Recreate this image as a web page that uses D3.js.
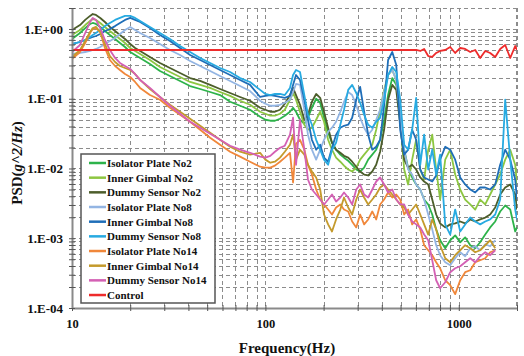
<!DOCTYPE html>
<html>
<head>
<meta charset="utf-8">
<script src="https://cdn.jsdelivr.net/npm/d3@7/dist/d3.min.js"></script>
<style>
  body { margin: 0; background: #fff; }
  svg text { font-family: "Liberation Serif", "Times New Roman", serif; font-weight: bold; fill: #111; }
</style>
</head>
<body>
<div id="chart"></div>
<script>
// frequency grid (Hz), shared by all series
const freq = [10,11,11.7,12.4,12.8,13.3,14,14.8,15.7,16.7,17.7,18.8,20,21.2,22.5,25.3,28.5,32.1,36.2,40.8,46,51.8,58.3,65.7,74,83.3,93.9,100,106,112,119,126,134,139,144,
  151,159,166,174,183,192,201,211,221,232,244,255,268,281,295,309,324,340,357,374,392,411,431,453,475,498,522,547,574,602,632,662,695,729,764,801,
  851,903,958,1017,1079,1146,1216,1290,1370,1453,1543,1637,1738,1845,1958,2000];

// PSD values (g^2/Hz)
const isolatorNo2 = [.719,.876,1.03,1.18,1.22,1.18,1.07,.936,.820,.719,.630,.552,.468,.424,.384,.315,.250,.212,.180,.152,.138,.125,.113,.0906,.0794,.0696,.0552,.0500,.0484,.0484,.0517,.0571,.0651,.0743,.0651,
  .0500,.0438,.0534,.0743,.100,.0876,.0534,.0326,.0234,.0186,.0158,.0143,.0129,.0113,.00968,.00906,.0103,.0134,.0158,.0186,.0258,.0500,.113,.198,.158,.0500,.0186,.0103,.00743,.00590,.00500,.00359,.00305,.00219,.00134,.000936,
  .000719,.000936,.00110,.000876,.00103,.000794,.000719,.000876,.00113,.00143,.00174,.00242,.00295,.00258,.00125,.00143];
const gimbalNo2 = [.820,.968,1.14,1.30,1.39,1.35,1.22,1.07,.936,.820,.719,.630,.534,.484,.438,.359,.285,.242,.205,.174,.158,.143,.125,.110,.0936,.0820,.0651,.0610,.0571,.0571,.0610,.0696,.0968,.121,.0968,
  .0651,.0424,.0359,.0384,.0500,.0651,.0468,.0258,.0186,.0143,.0125,.0110,.00968,.00906,.0103,.0134,.0158,.0186,.0219,.0359,.0696,.134,.219,.258,.186,.0500,.00968,.00590,.0134,.0258,.00968,.00696,.0186,.0305,.00968,.00359,
  .0134,.0186,.00820,.00500,.00359,.00305,.00258,.00359,.00305,.00424,.00590,.00820,.0134,.0186,.0113,.00590];
const dummyNo2 = [.968,1.14,1.35,1.54,1.64,1.59,1.44,1.26,1.07,.936,.820,.719,.610,.534,.484,.397,.326,.276,.234,.198,.180,.158,.138,.121,.106,.0936,.0743,.0696,.0651,.0651,.0696,.0848,.113,.143,.113,
  .0820,.0500,.0590,.0906,.117,.103,.0651,.0384,.0234,.0186,.0168,.0152,.0143,.0125,.0106,.00906,.00820,.00794,.00906,.0113,.0174,.0359,.0968,.158,.134,.0424,.0134,.0103,.0113,.00968,.00743,.00651,.00590,.00359,.00219,.00163,
  .00143,.00158,.00163,.00174,.00163,.00186,.00174,.00186,.00198,.00219,.00276,.00424,.00534,.00590,.00424,.00258];
const isolatorNo8 = [.438,.453,.468,.484,.500,.517,.552,.610,.673,.743,.848,.968,1.07,.968,.876,.743,.610,.500,.424,.348,.295,.250,.212,.180,.152,.129,.0936,.0848,.0794,.0794,.0820,.0876,.0968,.125,.163,
  .158,.0696,.0305,.0186,.0134,.0186,.0258,.0336,.0384,.0468,.0651,.0906,.125,.113,.0820,.0534,.0384,.0305,.0359,.0500,.0696,.125,.219,.258,.186,.0590,.0186,.00968,.00820,.00590,.00500,.00359,.00219,.00134,.000794,.000571,
  .000453,.000410,.000517,.000630,.000552,.000719,.000768,.000673,.000820,.000768,.000936,null,null,null,null,null];
const gimbalNo8 = [.610,.651,.696,.743,.768,.794,.848,.936,1.00,1.10,1.22,1.35,1.44,1.35,1.26,1.03,.820,.673,.534,.424,.359,.305,.258,.219,.186,.158,.106,.110,.113,.110,.106,.103,.110,.158,.219,
  .186,.0968,.0500,.0258,.0186,.0219,.0143,.0125,.0198,.0305,.0384,.0410,.0424,.0534,.0968,.148,.0651,.0305,.0186,.0205,.0258,.0794,.359,.468,.305,.0359,.0158,.0186,.0359,.0258,.00968,.00743,.00696,.00651,.00794,.0134,
  .0205,.0186,.0134,.00743,.00590,.00500,.00453,.00534,.00534,.00500,.00590,.0113,.0186,.0134,.00696,.00359];
const dummyNo8 = [.610,.651,.696,.768,.820,.876,.968,1.10,1.22,1.35,1.44,1.54,1.54,1.44,1.30,1.07,.876,.719,.571,.468,.384,.326,.276,.242,.198,.174,.134,.117,.113,.117,.117,.113,.143,.219,.258,
  .242,.113,.0590,.0424,.0258,.0186,.0134,.0113,.0186,.0234,.0424,.0696,.134,.158,.121,.0876,.0590,.0424,.0384,.0468,.0534,.0968,.219,.285,.242,.0968,.0219,.0186,.0359,.103,.0113,.0305,.00968,.0186,.00820,.0158,
  .00158,.00113,.00258,.00125,.00158,.00198,.00174,.00158,.00174,.00186,.00219,.00359,.0968,.0134,.00258,.00186];
const isolatorNo14 = [.371,.468,.630,.876,1.00,1.03,.906,.534,.359,.295,.258,.226,.205,.174,.143,.113,.0968,.0743,.0590,.0468,.0359,.0276,.0219,.0174,.0148,.0125,.0106,.0103,.0103,.0110,.0125,.0143,.0168,.00630,.0226,
  .0258,.0186,.0113,.00820,.00500,.00359,.00305,.00258,.00219,.00276,.00305,.00258,.00242,.00174,.00143,.00219,.00158,.00186,.00242,.00186,.00305,.00359,.00453,.00384,.00424,.00359,.00219,.00258,.00158,.00186,.00134,.000794,.000673,.000571,.000453,.000371,
  .000250,.000212,.000158,.000250,.000326,.000348,.000453,.000484,.000517,.000630,.000673,null,null,null,null,null];
const gimbalNo14 = [.397,.500,.673,.906,1.03,1.07,.906,.610,.410,.336,.295,.276,.258,.226,.186,.138,.106,.0820,.0651,.0517,.0410,.0326,.0258,.0205,.0174,.0158,.0168,.0134,.0121,.0125,.0143,.0174,.0219,.0305,.0134,
  .0186,.0158,.0113,.00906,.00743,.00500,.00219,.00158,.00125,.00186,.00258,.00384,.00276,.00219,.00359,.00500,.00384,.00305,.00359,.00424,.00534,.00590,.00500,.00424,.00359,.00305,.00276,.00219,.00258,.00305,.00219,.00158,.00113,.00186,.00134,.000794,
  .000517,.000453,.000571,.000673,.000794,.000719,.000630,.000673,.000794,.000936,.000719,null,null,null,null,null];
const dummyNo14 = [.468,.590,.876,1.26,1.44,1.35,1.03,.696,.500,.384,.326,.295,.267,.226,.186,.143,.106,.0794,.0610,.0468,.0384,.0315,.0258,.0212,.0186,.0168,.0148,.0143,.0152,.0174,.0198,.0212,.0305,.0534,.0113,
  .0500,.0186,.00696,.00500,.00424,.00359,.00305,.00359,.00424,.00336,.00384,.00453,.00384,.00305,.00500,.00590,.00424,.00384,.00500,.00651,.00743,.00590,.00453,.00500,.00359,.00305,.00305,.00219,.00174,.00158,.00143,.00113,.000936,.000484,.000250,.000192,
  .000234,.000326,.000371,.000397,.000453,.000517,.000453,.000552,.000630,.000571,.000673,null,null,null,null,null];
const control = [.5,.5,.5,.5,.5,.5,.5,.5,.5,.5,.5,.5,.5,.5,.5,.5,.5,.5,.5,.5,.5,.5,.5,.5,.5,.5,.5,.5,.5,.5,.5,.5,.5,.5,.5,
  .5,.5,.5,.5,.5,.5,.5,.5,.5,.5,.5,.5,.5,.5,.5,.5,.5,.5,.5,.5,.5,.5,.5,.5,.5,.5,.5,.5,.5,.5,.484,.517,.410,.397,.453,.484,
  .5,.552,.453,.534,.517,.468,.5,.384,.484,.453,.397,.517,.590,.384,.571,.5];

const seriesNames = ['Isolator Plate No2','Inner Gimbal No2','Dummy Sensor No2','Isolator Plate No8','Inner Gimbal No8',
  'Dummy Sensor No8','Isolator Plate No14','Inner Gimbal No14','Dummy Sensor No14','Control'];
const seriesValues = [isolatorNo2, gimbalNo2, dummyNo2, isolatorNo8, gimbalNo8, dummyNo8, isolatorNo14, gimbalNo14, dummyNo14, control];
const colors = ['#2db34a','#8dc641','#4d5e2b','#93b5e3','#1f6eb8','#27aae1','#f0873a','#c49a2c','#d460b4','#ee2b2b'];

const yTicks = [1e-4, 1e-3, 1e-2, 1e-1, 1];
const xTicks = [10, 100, 1000];

const width = 524, height = 356;
const margin = { left: 72, right: 517, top: 8, bottom: 308 };

const svg = d3.select('#chart').append('svg')
  .attr('width', width)
  .attr('height', height);

const x = d3.scaleLog().domain([10, 2000]).range([margin.left, margin.right]);
const y = d3.scaleLog().domain([1e-4, 2]).range([margin.bottom, margin.top]);

// minor positions for grid and ticks
let xMinor = [];
[10, 100, 1000].forEach(d => { for (let k = 1; k < 10; k++) if (d * k <= 2000) xMinor.push(d * k); });
let yMinor = [];
[1e-4, 1e-3, 1e-2, 1e-1, 1].forEach(d => { for (let k = 1; k < 10; k++) if (d * k <= 2) yMinor.push(+(d * k).toPrecision(3)); });

//dashed grid
const grid = svg.append('g').attr('class', 'grid')
  .attr('stroke', '#8c8c8c')
  .attr('stroke-width', 1)
  .attr('stroke-dasharray', '4,3');

grid.selectAll('.gx').data(xMinor.filter(d => d > 10)).enter().append('line')
  .attr('x1', d => Math.round(x(d)) + 0.5).attr('x2', d => Math.round(x(d)) + 0.5)
  .attr('y1', margin.top).attr('y2', margin.bottom);

grid.selectAll('.gy').data(yMinor.filter(d => d > 1e-4)).enter().append('line')
  .attr('x1', margin.left).attr('x2', margin.right)
  .attr('y1', d => Math.round(y(d)) + 0.5).attr('y2', d => Math.round(y(d)) + 0.5);

// right frame edge, dashed like the grid
grid.append('line')
  .attr('x1', margin.right - 0.5).attr('x2', margin.right - 0.5)
  .attr('y1', margin.top).attr('y2', margin.bottom);

// lines
svg.append('clipPath').attr('id', 'plot')
  .append('rect').attr('x', margin.left).attr('y', margin.top)
  .attr('width', margin.right - margin.left).attr('height', margin.bottom - margin.top);

const line = d3.line()
  .defined(d => d[1] != null)
  .x(d => x(d[0]))
  .y(d => y(d[1]));

svg.append('g').attr('clip-path', 'url(#plot)')
  .selectAll('path')
  .data(seriesValues)
  .enter()
  .append('path')
  .attr('d', vals => line(vals.map((v, i) => [freq[i], v])))
  .attr('fill', 'none')
  .attr('stroke', (d, i) => colors[i])
  .attr('stroke-width', 1.8)
  .attr('stroke-linejoin', 'round');

// axes
const xAxis = svg.append('g')
  .attr('transform', 'translate(0,' + margin.bottom + ')')
  .call(d3.axisBottom(x).tickValues(xMinor).tickSizeInner(3).tickSizeOuter(0).tickPadding(8)
    .tickFormat(d => xTicks.includes(d) ? d : ''));
xAxis.attr('font-family', null);
xAxis.select('.domain').attr('stroke', '#8a8a8a').attr('stroke-width', 2);
xAxis.selectAll('.tick line').attr('y1', -3).attr('y2', 3).attr('stroke', '#555');
xAxis.selectAll('text').style('font-size', '12.5px').attr('fill', '#111');

const yAxis = svg.append('g')
  .attr('transform', 'translate(' + margin.left + ',0)')
  .call(d3.axisLeft(y).tickValues(yMinor).tickSizeInner(3).tickSizeOuter(0).tickPadding(6)
    .tickFormat(d => {
      if (!yTicks.includes(d)) return '';
      const e = Math.round(Math.log10(d));
      return '1.E' + (e < 0 ? '-' : '+') + String(Math.abs(e)).padStart(2, '0');
    }));
yAxis.attr('font-family', null);
yAxis.select('.domain').attr('stroke', '#8a8a8a').attr('stroke-width', 2);
yAxis.selectAll('.tick line').attr('x1', -3).attr('x2', 3).attr('stroke', '#555');
yAxis.selectAll('text').style('font-size', '13px').attr('fill', '#111');

// titles
svg.append('text')
  .attr('x', 287).attr('y', 353)
  .attr('text-anchor', 'middle')
  .style('font-size', '15px')
  .text('Frequency(Hz)');

const yTitle = svg.append('text')
  .attr('transform', 'translate(22,163) rotate(-90)')
  .attr('text-anchor', 'middle')
  .style('font-size', '15px');
yTitle.append('tspan').text('PSD(');
yTitle.append('tspan').style('font-style', 'italic').text('g^2/Hz');
yTitle.append('tspan').text(')');

// legend
const legend = svg.append('g').attr('transform', 'translate(81,154)');
legend.append('rect')
  .attr('width', 134).attr('height', 149)
  .attr('fill', '#fff')
  .attr('stroke', '#555')
  .attr('stroke-width', 1.5);

const item = legend.selectAll('.item')
  .data(seriesNames)
  .enter()
  .append('g')
  .attr('transform', (d, i) => 'translate(0,' + (9 + i * 14.67) + ')');

item.append('line')
  .attr('x1', 8).attr('x2', 25)
  .attr('stroke', (d, i) => colors[i])
  .attr('stroke-width', 2.5);

item.append('text')
  .attr('x', 26).attr('dy', '0.35em')
  .style('font-size', '11px')
  .text(d => d);
</script>
</body>
</html>
